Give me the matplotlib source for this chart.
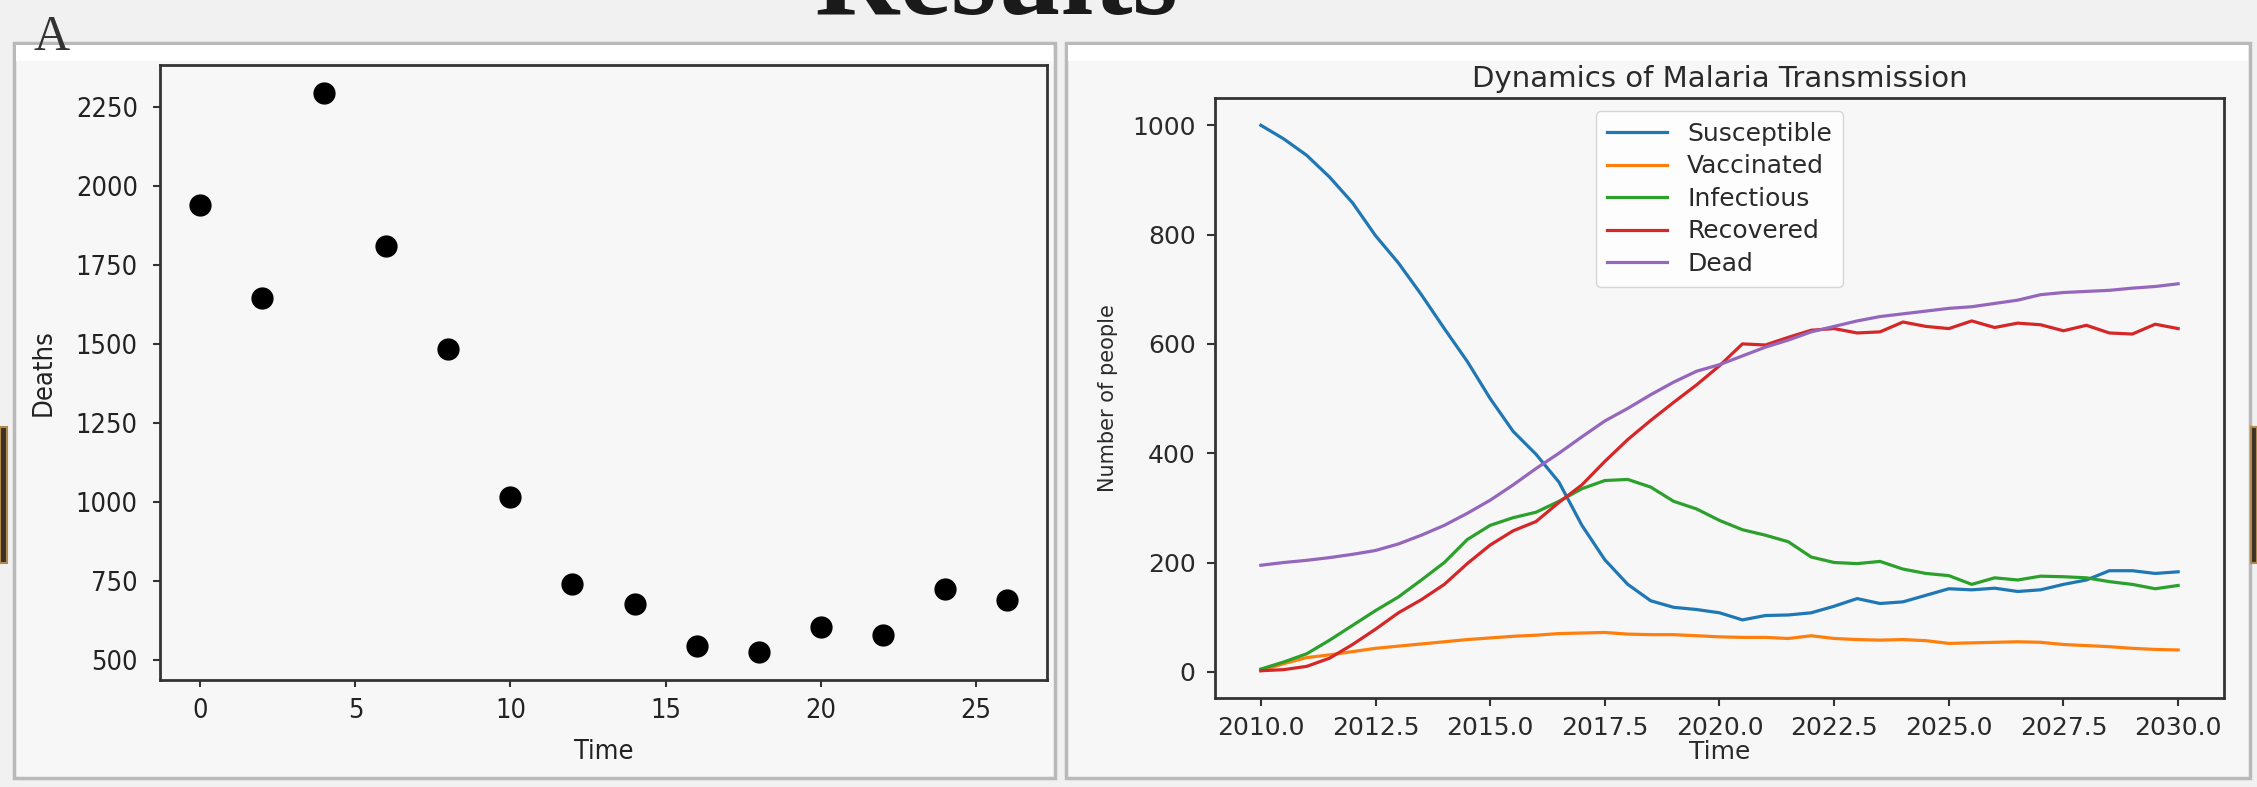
import numpy as np
import matplotlib
matplotlib.use("Agg")
import matplotlib.pyplot as plt
from matplotlib.patches import Rectangle

# left panel: deaths over time
death_t = [0, 2, 4, 6, 8, 10, 12, 14, 16, 18, 20, 22, 24, 26]
deaths = [1938, 1645, 2293, 1810, 1483, 1017, 740, 677, 544, 526, 605, 579, 724, 690]

# right panel: malaria transmission model, sampled every half year
years = [2010.0 + 0.5 * i for i in range(41)]
susceptible = [1000, 975, 945, 905, 858, 798, 748, 690, 628, 568, 500, 440, 398, 347,
               268, 205, 160, 130, 118, 114, 108, 95, 103, 104, 108, 120, 134, 125,
               128, 140, 152, 150, 153, 147, 150, 160, 168, 185, 185, 180, 183]
vaccinated = [2, 15, 26, 31, 37, 43, 47, 51, 55, 59, 62, 65, 67, 70, 71, 72, 69, 68,
              68, 66, 64, 63, 63, 61, 66, 61, 59, 58, 59, 57, 52, 53, 54, 55, 54, 50,
              48, 46, 43, 41, 40]
infectious = [5, 18, 33, 58, 85, 112, 137, 168, 200, 242, 268, 282, 292, 312, 335, 350,
              352, 338, 312, 298, 277, 260, 250, 238, 210, 200, 198, 202, 188, 180, 176,
              160, 172, 168, 175, 174, 172, 165, 160, 152, 158]
recovered = [2, 4, 10, 25, 50, 78, 108, 132, 160, 198, 232, 258, 275, 310, 342, 385,
             425, 460, 493, 525, 560, 600, 598, 612, 625, 628, 620, 622, 640, 632, 628,
             642, 630, 638, 635, 624, 634, 620, 618, 636, 628]
dead = [195, 200, 204, 209, 215, 222, 234, 250, 268, 290, 314, 342, 372, 400, 430, 459,
        482, 507, 530, 550, 562, 578, 594, 607, 622, 632, 642, 650, 655, 660, 665, 668,
        674, 680, 690, 694, 696, 698, 702, 705, 710]
series_names = ["Susceptible", "Vaccinated", "Infectious", "Recovered", "Dead"]
series_colors = ["#1f77b4", "#ff7f0e", "#2ca02c", "#d62728", "#9467bd"]

W, H = 2257, 787
fig = plt.figure(figsize=(W / 100, H / 100), dpi=100)
fig.patch.set_facecolor("#f1f1f1")

def box(x0, y0, x1, y1):
    # pixel box (top-left origin) -> figure fraction
    return [x0 / W, 1 - y1 / H, (x1 - x0) / W, (y1 - y0) / H]

def panel(x0, y0, x1, y1):
    l, b, w, h = box(x0, y0, x1, y1)
    fig.patches.append(Rectangle((l, b), w, h, transform=fig.transFigure,
                                 facecolor="#f7f7f7", edgecolor="#b9b9b9", lw=2.5, zorder=-10))
    l, b, w, h = box(x0 + 2, y0 + 2, x1 - 2, y0 + 18)
    fig.patches.append(Rectangle((l, b), w, h, transform=fig.transFigure,
                                 facecolor="white", edgecolor="none", zorder=-9))

panel(14, 43, 1055, 778)
panel(1066, 43, 2250, 778)
# slide background peeking out at the sides
for x0, x1 in [(0, 7), (2251, 2257)]:
    l, b, w, h = box(x0, 427, x1, 563)
    fig.patches.append(Rectangle((l, b), w, h, transform=fig.transFigure,
                                 facecolor="#3b3124", edgecolor="#b08a50", lw=1.5, zorder=-10))

fig.text(996 / W, 1 - 14 / H, "Results", ha="center", va="baseline",
         fontsize=84, fontweight="bold", family="Liberation Serif", color="#1a1a1a")
fig.text(34 / W, 1 - 50 / H, "A", ha="left", va="baseline",
         fontsize=36, family="Liberation Serif", color="#333333")

# --- left: scatter of deaths
ax1 = fig.add_axes(box(160, 65, 1047, 680))
ax1.set_facecolor("#f7f7f7")
ax1.plot(death_t, deaths, "o", color="black", markersize=15)
ax1.set_xticks([0, 5, 10, 15, 20, 25])
ax1.set_yticks([500, 750, 1000, 1250, 1500, 1750, 2000, 2250])
for lab in ax1.get_xticklabels() + ax1.get_yticklabels():
    lab.set_fontsize(19.5)
    lab.set_fontstretch("condensed")
    lab.set_color("#222222")
ax1.tick_params(axis="y", pad=11, length=5, width=1.5, color="#333333")
ax1.tick_params(axis="x", pad=8, length=5, width=1.5, color="#333333")
ax1.set_xlabel("Time", fontsize=19.5, fontstretch="condensed", labelpad=11, color="#222222")
ax1.set_ylabel("Deaths", fontsize=19.5, fontstretch="condensed", labelpad=14, color="#222222")
for s in ax1.spines.values():
    s.set_color("#333333")
    s.set_linewidth(2)

# --- right: model dynamics
ax2 = fig.add_axes(box(1215, 98, 2224, 698))
ax2.set_facecolor("#f7f7f7")
for vals, name, c in zip([susceptible, vaccinated, infectious, recovered, dead],
                         series_names, series_colors):
    ax2.plot(years, vals, color=c, lw=2.3, label=name)
ax2.set_xticks([2010, 2012.5, 2015, 2017.5, 2020, 2022.5, 2025, 2027.5, 2030])
ax2.set_xticklabels([f"{v:.1f}" for v in ax2.get_xticks()])
ax2.set_yticks([0, 200, 400, 600, 800, 1000])
ax2.tick_params(labelsize=18, labelcolor="#2a2a2a", length=6, width=1.5, color="#333333")
ax2.tick_params(axis="y", pad=8)
ax2.tick_params(axis="x", pad=7)
ax2.set_title("Dynamics of Malaria Transmission", fontsize=21, pad=8, color="#2a2a2a")
ax2.set_xlabel("Time", fontsize=18, labelpad=0, color="#2a2a2a")
ax2.set_ylabel("Number of people", fontsize=15, labelpad=10, color="#2a2a2a")
for s in ax2.spines.values():
    s.set_color("#333333")
    s.set_linewidth(2)
leg = ax2.legend(loc="upper center", fontsize=18, handlelength=2.4,
                 labelspacing=0.34, borderpad=0.45, framealpha=0.8, edgecolor="#cccccc")
for t in leg.get_texts():
    t.set_color("#2a2a2a")

fig.savefig("out.png", dpi=100, facecolor=fig.get_facecolor())
